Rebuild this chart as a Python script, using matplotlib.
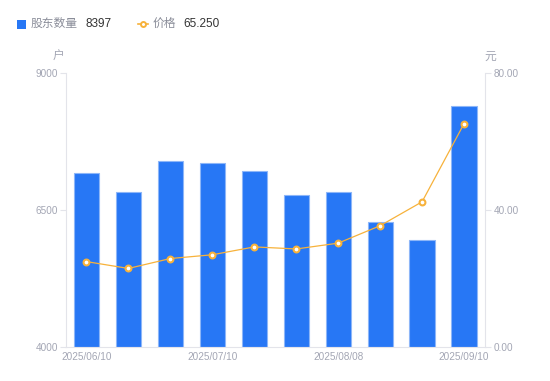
import matplotlib
matplotlib.use("Agg")
import matplotlib.pyplot as plt
from matplotlib.lines import Line2D
from matplotlib.patches import Rectangle

plt.rcParams['font.family'] = ['Liberation Sans', 'Noto Sans CJK SC', 'DejaVu Sans']

dates = ["2025/06/10", "2025/06/20", "2025/06/30", "2025/07/10", "2025/07/18",
         "2025/07/31", "2025/08/08", "2025/08/20", "2025/08/29", "2025/09/10"]
holders = [7172, 6830, 7391, 7355, 7208, 6775, 6824, 6275, 5946, 8397]
price = [24.9, 22.9, 25.8, 26.9, 29.2, 28.6, 30.3, 35.4, 42.4, 65.25]
left_ticks = [4000, 6500, 9000]
right_ticks = [0, 40, 80]
shown_idx = [0, 3, 6, 9]

BLUE = "#2777F5"
ORANGE = "#F7B23B"
GRAY = "#A3A6B4"
AXIS = "#E3E4EA"

fig = plt.figure(figsize=(5.5, 3.81), dpi=100)
ax = fig.add_axes([65.5/550, 1-346.7/381, (485-65.5)/550, (346.7-73.3)/381])
ax2 = ax.twinx()

x = list(range(len(dates)))
ax.bar(x, [h - 4000 for h in holders], bottom=4000, width=0.6, color=BLUE,
       edgecolor="#8DB6F8", linewidth=0.8, zorder=2)
ax.set_ylim(4000, 9000)
ax.set_xlim(-0.5, len(dates) - 0.5)
ax.set_yticks(left_ticks)
ax.set_yticklabels([str(t) for t in left_ticks])
ax.set_xticks([x[i] for i in shown_idx])
ax.set_xticklabels([dates[i] for i in shown_idx])

ax2.plot(x, price, color=ORANGE, linewidth=0.9, marker='o', markersize=4.2,
         markerfacecolor='white', markeredgecolor=ORANGE, markeredgewidth=1.5, zorder=3)
ax2.set_ylim(0, 80)
ax2.set_yticks(right_ticks)
ax2.set_yticklabels([f"{t:.2f}" for t in right_ticks])

for a in (ax, ax2):
    for s in a.spines.values():
        s.set_visible(False)
ax.spines['left'].set_visible(True)
ax.spines['left'].set_color(AXIS)
ax.spines['bottom'].set_visible(True)
ax.spines['bottom'].set_color(AXIS)
ax2.spines['right'].set_visible(True)
ax2.spines['right'].set_color(AXIS)

ax.tick_params(axis='y', colors=AXIS, labelcolor=GRAY, labelsize=7.2, length=4, width=0.8, pad=1.5)
ax.tick_params(axis='x', colors=AXIS, labelcolor=GRAY, labelsize=7.2, length=0, pad=4)
ax2.tick_params(axis='y', colors=AXIS, labelcolor=GRAY, labelsize=7.2, length=4, width=0.8, pad=2.5)

fig.text(58.3/550, 1-56.7/381, "户", color=GRAY, fontsize=8.5, ha='center', va='center')
fig.text(490/550, 1-56.7/381, "元", color=GRAY, fontsize=8.5, ha='center', va='center')

# legend
ly = 1 - 24/381
fig.patches.append(Rectangle((16.5/550, 1-28.5/381), 9/550, 9/381, transform=fig.transFigure,
                             facecolor=BLUE, edgecolor='none'))
fig.text(31/550, ly, "股东数量", color="#8A8D99", fontsize=8.5, va='center', ha='left')
fig.text(85/550, ly, "8397", color="#333333", fontsize=8.5, va='center', ha='left')
fig.lines.append(Line2D([138/550, 148/550], [ly, ly], transform=fig.transFigure,
                        color=ORANGE, linewidth=1.2))
fig.lines.append(Line2D([143/550], [ly], transform=fig.transFigure, color=ORANGE,
                        marker='o', markersize=3.6, markerfacecolor='white', markeredgewidth=1.4,
                        linestyle='none'))
fig.text(153/550, ly, "价格", color="#8A8D99", fontsize=8.5, va='center', ha='left')
fig.text(183/550, ly, "65.250", color="#333333", fontsize=8.5, va='center', ha='left')

fig.savefig("out.png", dpi=100)
